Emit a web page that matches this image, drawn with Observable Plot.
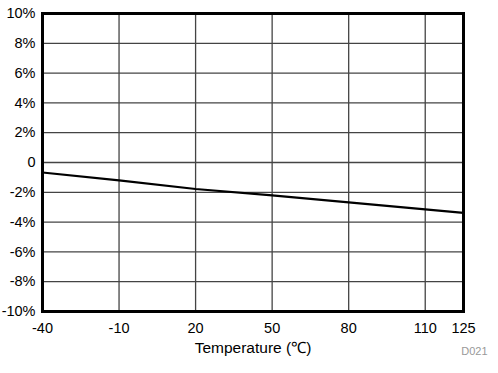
<!DOCTYPE html>
<html>
<head>
<meta charset="utf-8">
<script src="https://cdn.jsdelivr.net/npm/d3@7"></script>
<script src="https://cdn.jsdelivr.net/npm/@observablehq/plot@0.6"></script>
<style>
  html, body { margin: 0; padding: 0; background: #fff; }
  #chart svg { display: block; }
</style>
</head>
<body>
<div id="chart"></div>
<script>
const temperature = [-40, -10, 20, 50, 80, 110, 125];
const deviation = [-0.67, -1.2, -1.78, -2.2, -2.68, -3.15, -3.38];
const xTicks = [-40, -10, 20, 50, 80, 110, 125];
const yTicks = [-10, -8, -6, -4, -2, 0, 2, 4, 6, 8, 10];
const xLabel = "Temperature (℃)";
const figureId = "D021";

const data = temperature.map((t, i) => ({t, v: deviation[i]}));

const chart = Plot.plot({
  width: 498,
  height: 373,
  marginLeft: 42,
  marginRight: 35,
  marginTop: 13,
  marginBottom: 62,
  style: {fontFamily: "Liberation Sans, Arial, sans-serif", fontSize: "14px", color: "#000", background: "#fff"},
  x: {domain: [-40, 125]},
  y: {domain: [-10, 10]},
  marks: [
    Plot.ruleX(xTicks, {stroke: "#444", strokeWidth: 1.3}),
    Plot.ruleY(yTicks, {stroke: "#444", strokeWidth: 1.3}),
    Plot.axisX({ticks: xTicks, tickSize: 0, tickPadding: 11, tickFormat: d => String(d), label: null, fontSize: 14.5}),
    Plot.text([xLabel], {frameAnchor: "bottom", text: d => d, dy: 37, lineAnchor: "middle", fontSize: 15.5, fill: "#000"}),
    Plot.axisY({ticks: yTicks, tickSize: 0, tickPadding: 7, tickFormat: d => d === 0 ? "0" : d + "%", label: null, fontSize: 14.5}),
    Plot.line(data, {x: "t", y: "v", stroke: "#000", strokeWidth: 2.2}),
    Plot.frame({stroke: "#000", strokeWidth: 3}),
    Plot.text([figureId], {frameAnchor: "bottom-right", text: d => d, dx: 24, dy: 43, textAnchor: "end", fill: "#999", fontSize: 11})
  ]
});
document.getElementById("chart").appendChild(chart);
</script>
</body>
</html>
